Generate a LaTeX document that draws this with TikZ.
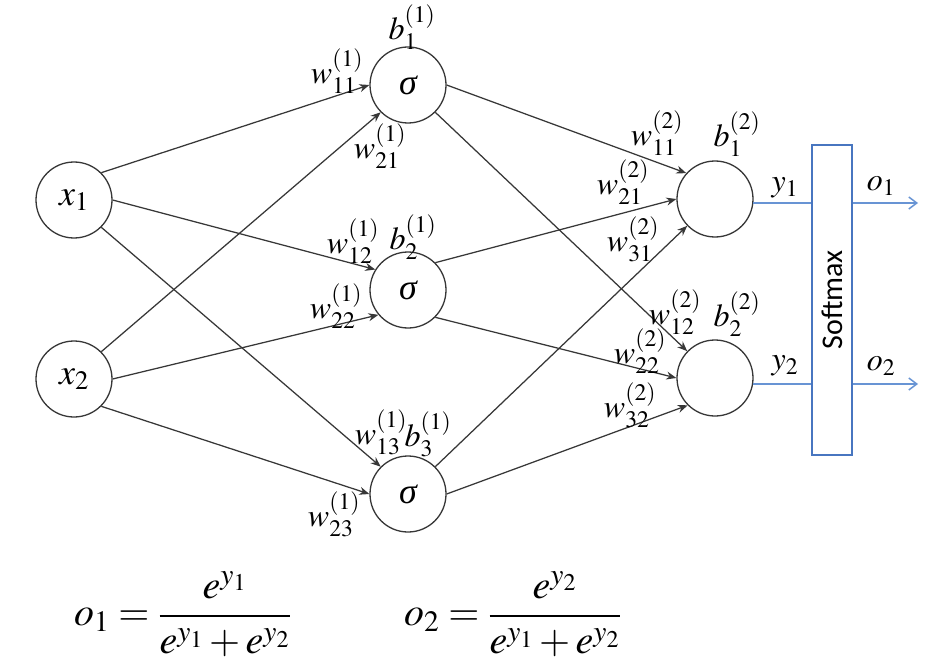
\documentclass[tikz,border=0pt]{standalone}
\usepackage[no-math]{fontspec}
\usepackage{mathptmx}
\newfontfamily\smfont{Carlito}
\newfontfamily\tms{Liberation Serif}
\usetikzlibrary{arrows.meta}
\definecolor{boxblue}{RGB}{72,118,192}
\definecolor{lineblue}{RGB}{104,148,212}
\definecolor{edgegray}{RGB}{55,55,55}
\begin{document}
\begin{tikzpicture}[x=1pt,y=-1pt,
  neuron/.style={circle, draw=edgegray, line width=1.3pt, minimum size=76pt, inner sep=0pt, font=\fontsize{36}{40}\selectfont},
  edge/.style={draw=edgegray, line width=1.25pt, -{Stealth[length=10pt,width=8pt]}},
  lbl/.style={inner sep=0pt, font=\fontsize{32}{36}\selectfont},
  blueline/.style={draw=lineblue, line width=1.5pt},
  bluearrow/.style={blueline, -{Straight Barb[length=8pt,width=12pt,line width=1.5pt]}},
  fml/.style={inner sep=0pt, anchor=west, font=\fontsize{40}{48}\selectfont}]
\fill[white] (0,0) rectangle (931,671);
\useasboundingbox (0,0) rectangle (931,671);
% neurons
\node[neuron] (x1) at (74,200) {$x_1$};
\node[neuron] (x2) at (74,379) {$x_2$};
\node[neuron] (s1) at (408,85) {\tms\itshape σ};
\node[neuron] (s2) at (408,290) {\tms\itshape σ};
\node[neuron] (s3) at (408,494) {\tms\itshape σ};
\node[neuron] (y1) at (715,199) {};
\node[neuron] (y2) at (715,378) {};
% softmax box
\node[draw=boxblue, line width=2.6pt, minimum width=40pt, minimum height=310pt, inner sep=0pt] (sm) at (832,300) {};
\node[rotate=90, inner sep=0pt, font=\smfont\fontsize{30}{36}\selectfont] (smtext) at (sm.center) {Softmax};
% edges layer 1
\draw[edge] (x1.45) -- (s1.180);
\draw[edge] (x1.0) -- (s2.148);
\draw[edge] (x1.-45) -- (s3.135);
\draw[edge] (x2.45) -- (s1.225);
\draw[edge] (x2.0) -- (s2.220);
\draw[edge] (x2.-45) -- (s3.180);
% edges layer 2
\draw[edge] (s1.0) -- (y1.138);
\draw[edge] (s1.-45) -- (y2.136);
\draw[edge] (s2.45) -- (y1.180);
\draw[edge] (s2.-45) -- (y2.180);
\draw[edge] (s3.45) -- (y1.224);
\draw[edge] (s3.0) -- (y2.225);
% blue connectors
\coordinate (o1end) at (918,203);
\coordinate (o2end) at (918,384);
\draw[blueline] (y1.-6) -- (y1.-6 -| sm.west);
\draw[blueline] (y2.-9) -- (y2.-9 -| sm.west);
\draw[bluearrow] (o1end -| sm.east) -- (o1end);
\draw[bluearrow] (o2end -| sm.east) -- (o2end);
% labels
\node[lbl] (b11) at (412,27) {$b_1^{(1)}$};
\node[lbl] (w111) at (337,71) {$w_{11}^{(1)}$};
\node[lbl] (w211) at (380,146) {$w_{21}^{(1)}$};
\node[lbl] (b21) at (413,237) {$b_2^{(1)}$};
\node[lbl] (w121) at (353,241) {$w_{12}^{(1)}$};
\node[lbl] (w221) at (336,306) {$w_{22}^{(1)}$};
\node[lbl] (w131) at (381,432) {$w_{13}^{(1)}$};
\node[lbl] (b31) at (428,434) {$b_3^{(1)}$};
\node[lbl] (w231) at (334,514) {$w_{23}^{(1)}$};
\node[lbl] (w112) at (657,133) {$w_{11}^{(2)}$};
\node[lbl] (b12) at (737,134) {$b_1^{(2)}$};
\node[lbl] (w212) at (623,182) {$w_{21}^{(2)}$};
\node[lbl] (w312) at (633,239) {$w_{31}^{(2)}$};
\node[lbl] (w122) at (675,312) {$w_{12}^{(2)}$};
\node[lbl] (b22) at (737,314) {$b_2^{(2)}$};
\node[lbl] (w222) at (640,351) {$w_{22}^{(2)}$};
\node[lbl] (w322) at (630,405) {$w_{32}^{(2)}$};
\node[lbl] (ly1) at (785,188) {$y_1$};
\node[lbl] (ly2) at (785,366) {$y_2$};
\node[lbl] (lo1) at (881,186) {$o_1$};
\node[lbl] (lo2) at (881,366) {$o_2$};
% formulas
\node[fml] (f1) at (74,614) {$o_1 = {\displaystyle\frac{e^{y_1}}{e^{y_1}+e^{y_2}}}$};
\node[fml] (f2) at (404,614) {$o_2 = {\displaystyle\frac{e^{y_2}}{e^{y_1}+e^{y_2}}}$};
\end{tikzpicture}
\end{document}
